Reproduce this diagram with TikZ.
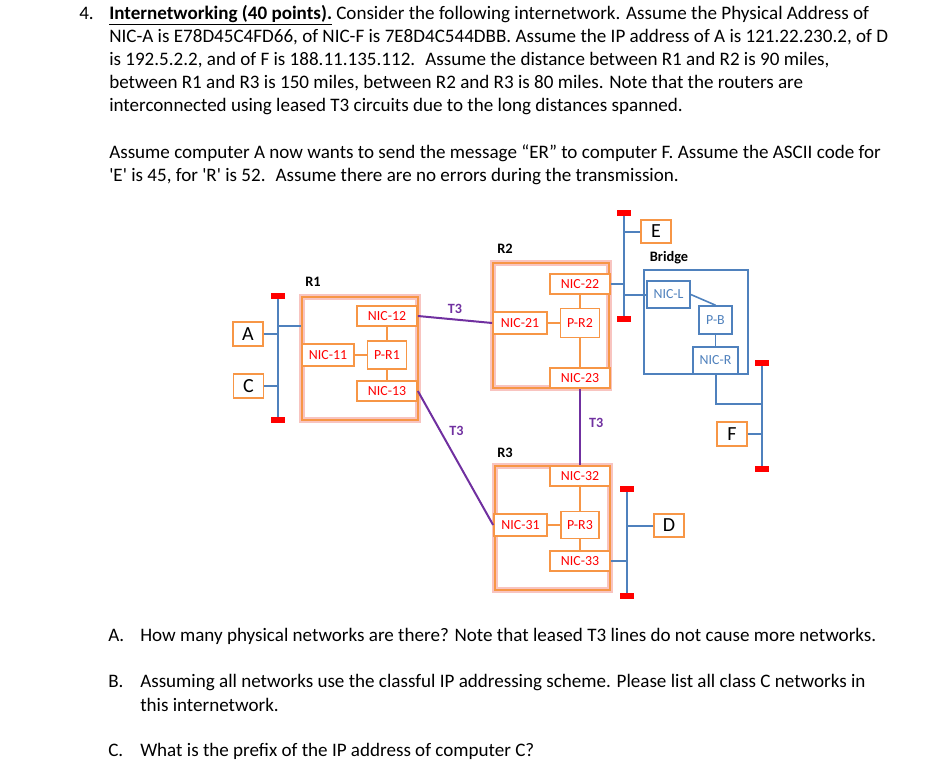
\documentclass[tikz,border=0pt]{standalone}
\usepackage{fontspec}
\setmainfont{Carlito}
\definecolor{nicorange}{HTML}{F79646}
\definecolor{glowpink}{HTML}{F8C4C0}
\definecolor{busblue}{HTML}{4F81BD}
\definecolor{linkpurple}{HTML}{7030A0}
\tikzset{
    txt/.style={anchor=base west, inner sep=0pt, font=\fontsize{14.3}{17}\selectfont},
    router/.style={draw=nicorange, line width=2.2pt, preaction={draw=glowpink, line width=4.6pt}},
    nic/.style={draw=nicorange, line width=1.3pt, fill=white, text=red, inner sep=0pt, font=\fontsize{10.4}{12}\selectfont},
    bnic/.style={draw=busblue, line width=1.2pt, fill=white, text=busblue, inner sep=0pt, font=\fontsize{10.4}{12}\selectfont},
    host/.style={draw=nicorange, line width=1.3pt, fill=white, inner sep=0pt, minimum width=22.5pt, minimum height=17.5pt, font=\fontsize{15}{17}\selectfont},
    boxname/.style={inner sep=0pt, font=\fontsize{10.8}{13}\selectfont\bfseries},
    endcap/.style={fill=red, inner sep=0pt, minimum width=10.5pt, minimum height=4.5pt},
    bus/.style={draw=busblue, line width=2pt},
    tap/.style={draw=busblue, line width=1.5pt},
    internal/.style={draw=nicorange, line width=1.1pt},
    trunk/.style={draw=linkpurple, line width=1.5pt},
    trunkname/.style={text=linkpurple, inner sep=0pt, font=\fontsize{10.6}{13}\selectfont\bfseries}
}
\begin{document}
\begin{tikzpicture}[x=0.75pt, y=-0.75pt]
    \useasboundingbox (0,0) rectangle (936,778);

    % question text
    \node[txt] (num) at (79,19) {4.};
    \node[txt] (l1) at (109,19) {\underline{\textbf{Internetworking (40 points).}} Consider the following internetwork. Assume the Physical Address of};
    \node[txt] (l2) at (109,42) {NIC-A is E78D45C4FD66, of NIC-F is 7E8D4C544DBB. Assume the IP address of A is 121.22.230.2, of D};
    \node[txt] (l3) at (109,65) {is 192.5.2.2, and of F is 188.11.135.112.~ Assume the distance between R1 and R2 is 90 miles,};
    \node[txt] (l4) at (109,88) {between R1 and R3 is 150 miles, between R2 and R3 is 80 miles. Note that the routers are};
    \node[txt] (l5) at (109,111) {interconnected using leased T3 circuits due to the long distances spanned.};
    \node[txt] (l6) at (109,158) {Assume computer A now wants to send the message “ER” to computer F. Assume the ASCII code for};
    \node[txt] (l7) at (109,181) {\textquotesingle E\textquotesingle{} is 45, for \textquotesingle R\textquotesingle{} is 52.~ Assume there are no errors during the transmission.};

    % router R1
    \node[router, minimum width=87pt, minimum height=92.25pt] (R1) at (360,358.5) {};
    \node[boxname] (R1name) at (313,282) {R1};
    \node[nic, minimum width=45pt, minimum height=15pt] (nic12) at (387,316) {NIC-12};
    \node[nic, minimum width=39pt, minimum height=16.5pt] (nic11) at (328,355) {NIC-11};
    \node[nic, minimum width=29.25pt, minimum height=21pt] (pr1) at (387,355) {P-R1};
    \node[nic, minimum width=45pt, minimum height=15pt] (nic13) at (387,391) {NIC-13};
    \draw[internal] (nic11) -- (pr1);
    \draw[internal] (pr1) -- (nic12);
    \draw[internal] (pr1) -- (nic13);

    % router R2
    \node[router, minimum width=87pt, minimum height=93.75pt] (R2) at (551,325.5) {};
    \node[boxname] (R2name) at (505,249) {R2};
    \node[nic, minimum width=45pt, minimum height=15pt] (nic22) at (580,284) {NIC-22};
    \node[nic, minimum width=40.5pt, minimum height=16.5pt] (nic21) at (520,323) {NIC-21};
    \node[nic, minimum width=29.25pt, minimum height=21.75pt] (pr2) at (580,323) {P-R2};
    \node[nic, minimum width=45pt, minimum height=15pt] (nic23) at (580,378) {NIC-23};
    \draw[internal] (nic21) -- (pr2);
    \draw[internal] (pr2) -- (nic22);
    \draw[internal] (pr2) -- (nic23);

    % router R3
    \node[router, minimum width=86.25pt, minimum height=93pt] (R3) at (552.5,528) {};
    \node[boxname] (R3name) at (505,453) {R3};
    \node[nic, minimum width=45pt, minimum height=15pt] (nic32) at (580,476) {NIC-32};
    \node[nic, minimum width=39.75pt, minimum height=16.5pt] (nic31) at (520.5,525) {NIC-31};
    \node[nic, minimum width=28.5pt, minimum height=20.25pt] (pr3) at (580,525) {P-R3};
    \node[nic, minimum width=45pt, minimum height=15pt] (nic33) at (580,561) {NIC-33};
    \draw[internal] (nic31) -- (pr3);
    \draw[internal] (pr3) -- (nic32);
    \draw[internal] (pr3) -- (nic33);

    % bridge
    \node[draw=busblue, line width=1.2pt, minimum width=78pt, minimum height=78pt] (bridge) at (696,322) {};
    \node[boxname] (bridgename) at (669,258) {Bridge};
    \node[bnic, minimum width=32.25pt, minimum height=20.25pt] (nicL) at (668.5,294.5) {NIC-L};
    \node[bnic, minimum width=24.75pt, minimum height=21pt] (pb) at (715.5,320) {P-B};
    \node[bnic, minimum width=33.75pt, minimum height=20.25pt] (nicR) at (715.5,360.5) {NIC-R};
    \draw[tap, line width=1.2pt] (nicL.east) -- (pb.north);
    \draw[tap, line width=1.2pt] (pb) -- (nicR);

    % hosts
    \node[host] (A) at (248,334) {A};
    \node[host] (C) at (248.5,386) {C};
    \node[host] (E) at (656,231.5) {E};
    \node[host] (F) at (732,434) {F};
    \node[host] (D) at (669,525.5) {D};

    % LAN segments
    \node[endcap] (top1) at (278,296) {};
    \node[endcap] (bot1) at (278,420) {};
    \node[endcap] (top2) at (624,213) {};
    \node[endcap] (bot2) at (624,319) {};
    \node[endcap] (top3) at (762,363) {};
    \node[endcap] (bot3) at (762,469) {};
    \node[endcap] (top4) at (627,489) {};
    \node[endcap] (bot4) at (627,596) {};
    \draw[bus] (top1) -- (bot1);
    \draw[bus] (top2) -- (bot2);
    \draw[bus] (top3) -- (bot3);
    \draw[bus] (top4) -- (bot4);

    \draw[tap] (A) -- (A -| top1);
    \draw[tap] (C) -- (C -| top1);
    \draw[tap] (R1.west |- 0,326) -- (top1 |- 0,326);
    \draw[tap] (E) -- (E -| top2);
    \draw[tap] (nic22) -- (nic22 -| top2);
    \draw[tap] (nicL) -- (nicL -| top2);
    \draw[tap] (F) -- (F -| top3);
    \draw[tap] (nicR.south) |- (top3 |- 0,404);
    \draw[tap] (D) -- (D -| top4);
    \draw[tap] (nic33) -- (nic33 -| top4);

    % leased T3 lines
    \draw[trunk] (nic12.east) -- (nic21.west) node[trunkname, midway, above=4pt] (t3a) {T3};
    \draw[trunk] (nic13.east) -- (nic31.west) node[trunkname, pos=0.3, right=6pt] (t3b) {T3};
    \draw[trunk] (nic23) -- (nic32) node[trunkname, pos=0.45, right=6pt] (t3c) {T3};

    % questions
    \node[txt] (qa) at (108,641) {A.};
    \node[txt] (la) at (140,641) {How many physical networks are there? Note that leased T3 lines do not cause more networks.};
    \node[txt] (qb) at (108,687) {B.};
    \node[txt] (lb1) at (140,687) {Assuming all networks use the classful IP addressing scheme. Please list all class C networks in};
    \node[txt] (lb2) at (140,711) {this internetwork.};
    \node[txt] (qc) at (108,756) {C.};
    \node[txt] (lc) at (140,756) {What is the prefix of the IP address of computer C?};
\end{tikzpicture}
\end{document}
